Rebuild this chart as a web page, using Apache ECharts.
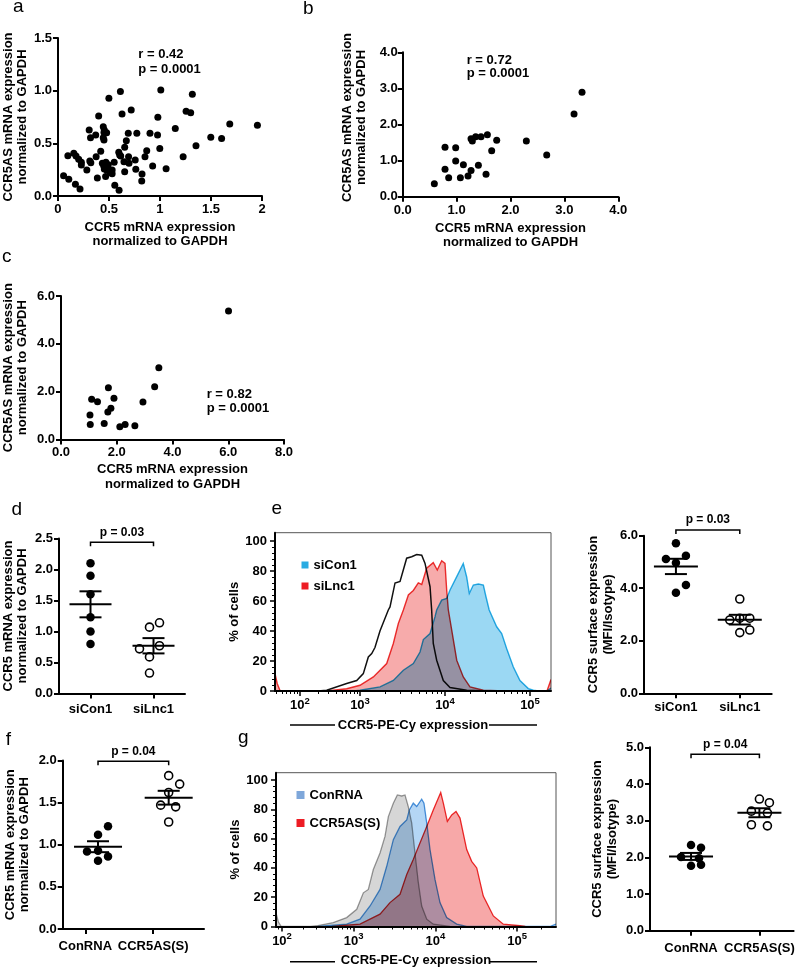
<!DOCTYPE html>
<html><head><meta charset="utf-8">
<script src="https://cdn.jsdelivr.net/npm/echarts@6/dist/echarts.min.js"></script>
<style>html,body{margin:0;padding:0;background:#fff}#c{width:800px;height:969px}</style>
</head><body><div id="c"></div>
<script>
// ---------------- DATA ----------------
// a: [CCR5, CCR5AS] normalized to GAPDH
const aPoints = [[0.055,0.193],[0.106,0.158],[0.097,0.383],[0.155,0.405],[0.177,0.38],[0.203,0.348],[0.229,0.32],[0.229,0.294],[0.171,0.111],[0.216,0.066],[0.283,0.247],[0.306,0.627],[0.319,0.554],[0.312,0.332],[0.322,0.316],[0.37,0.579],[0.374,0.373],[0.386,0.171],[0.399,0.759],[0.419,0.424],[0.444,0.658],[0.454,0.627],[0.444,0.554],[0.451,0.604],[0.477,0.601],[0.451,0.532],[0.435,0.31],[0.448,0.288],[0.47,0.32],[0.454,0.256],[0.477,0.247],[0.493,0.297],[0.467,0.184],[0.512,0.222],[0.499,0.927],[0.531,0.247],[0.551,0.32],[0.531,0.212],[0.612,0.991],[0.628,0.778],[0.557,0.101],[0.599,0.054],[0.596,0.415],[0.605,0.389],[0.615,0.38],[0.692,0.373],[0.654,0.231],[0.647,0.326],[0.689,0.595],[0.67,0.525],[0.718,0.816],[0.654,0.462],[0.696,0.31],[0.773,0.595],[0.757,0.342],[0.763,0.253],[0.824,0.209],[0.821,0.142],[0.853,0.373],[0.87,0.43],[0.902,0.595],[0.928,0.285],[0.976,0.579],[0.979,0.747],[0.998,0.452],[1.008,1.006],[1.06,0.259],[1.15,0.642],[1.227,0.373],[1.256,0.804],[1.301,0.791],[1.317,0.965],[1.353,0.478],[1.498,0.557],[1.604,0.547],[1.684,0.684],[1.955,0.671]];
const aStats = 'r = 0.42\np = 0.0001';
// b
const bPoints = [[0.587,0.36],[0.785,1.367],[0.785,0.757],[0.853,0.526],[0.983,1.357],[0.983,0.988],[1.07,0.526],[1.126,0.886],[1.212,0.572],[1.268,0.729],[1.268,1.607],[1.292,1.542],[1.354,1.662],[1.404,0.868],[1.453,1.662],[1.546,0.619],[1.571,1.717],[1.651,1.274],[1.744,1.561],[2.294,1.542],[2.672,1.154],[3.179,2.29],[3.327,2.89]];
const bStats = 'r = 0.72\np = 0.0001';
// c
const cPoints = [[6.01,5.37],[3.51,3.0],[3.36,2.2],[1.70,2.16],[1.10,1.68],[1.31,1.58],[1.90,1.72],[2.94,1.56],[1.79,1.30],[1.04,1.02],[1.68,1.15],[1.05,0.62],[1.55,0.67],[2.11,0.53],[2.30,0.62],[2.65,0.57]];
const cStats = 'r = 0.82\np = 0.0001';
const xTitleMRNA = 'CCR5 mRNA expression\nnormalized to GAPDH';
const yTitleAS = 'CCR5AS mRNA expression\nnormalized to GAPDH';

// d: CCR5 mRNA
const dCats = ['siCon1','siLnc1'];
const dSiCon1 = [2.10,1.90,1.60,1.23,1.00,0.80];
const dSiLnc1 = [1.07,1.14,0.72,0.77,0.59,0.33];
const dP = 'p = 0.03';
// e: histograms [log10 intensity, % of max]
const eIsotype = [[2.3,0],[2.445,0.5],[2.778,5],[2.945,7],[3.039,11.6],[3.098,22.7],[3.138,25],[3.176,29],[3.235,40],[3.333,54],[3.353,56],[3.412,72],[3.471,73],[3.549,88.5],[3.608,89.5],[3.667,91],[3.726,90.5],[3.765,85],[3.824,69.5],[3.843,54],[3.862,31.7],[3.902,20.5],[3.98,7],[4.059,2.3],[4.255,0.5],[4.5,0]];
const eSiLnc1Hist = [[1.583,11.8],[1.62,5],[1.67,0],[2.445,0],[2.778,1.5],[3.0,3.8],[3.157,9.4],[3.314,18.3],[3.392,31.7],[3.451,45],[3.51,54],[3.569,64],[3.627,67],[3.686,72],[3.726,71],[3.784,81.8],[3.862,85.5],[3.909,80.6],[3.961,86.8],[4.0,85],[4.02,67],[4.039,54],[4.079,40.5],[4.138,20.5],[4.215,9.4],[4.294,2.7],[4.451,0.5],[4.7,0],[5.2,0],[5.247,7.6]];
const eSiCon1Hist = [[2.9,0],[3.0,0.5],[3.235,2.7],[3.392,7],[3.51,13.8],[3.627,18.3],[3.706,26],[3.745,34.3],[3.824,38.3],[3.882,49.4],[3.902,54],[3.961,60.6],[4.02,61.7],[4.059,67.3],[4.138,76.2],[4.215,85],[4.255,76],[4.286,65],[4.333,70.6],[4.392,71.3],[4.451,70.6],[4.482,62.8],[4.52,54],[4.608,42.8],[4.667,38.3],[4.725,28.3],[4.804,16],[4.882,7],[4.98,1.6],[5.039,0.5],[5.1,0],[5.2,0],[5.247,2]];
const histYTicks = [0,20,40,60,80,100];
const histXDecades = [2,3,4,5];
// e right: MFI/Isotype
const eMfiSiCon1 = [5.71,5.11,5.24,4.97,4.12,3.83];
const eMfiSiLnc1 = [3.59,2.86,2.86,2.79,2.31,2.41];
const eP = 'p = 0.03';
// f: CCR5 mRNA
const fCats = ['ConRNA','CCR5AS(S)'];
const fConRNA = [1.22,1.12,0.92,0.93,0.86,0.81];
const fCCR5AS = [1.82,1.72,1.62,1.47,1.45,1.27];
const fP = 'p = 0.04';
// g histograms
const gIsotype = [[1.916,9.5],[1.95,3],[1.99,0],[2.4,0],[2.484,0.5],[2.715,2.7],[2.902,6.1],[3.037,11.7],[3.118,23],[3.179,25.3],[3.24,38.9],[3.322,50.2],[3.383,61.5],[3.424,75],[3.485,84.2],[3.534,89.8],[3.588,89.1],[3.628,89.8],[3.668,81.9],[3.71,70.6],[3.75,50.2],[3.791,29.9],[3.832,14],[3.894,5],[3.974,1.6],[4.179,0]];
const gConRNAHist = [[2.5,0],[2.623,0.5],[2.902,1.6],[3.077,5],[3.2,14],[3.322,25.3],[3.404,41.1],[3.485,59.3],[3.567,68.3],[3.649,72.8],[3.681,79.6],[3.729,84.2],[3.771,81.9],[3.832,86.9],[3.86,84.2],[3.894,70.6],[3.934,52.5],[3.995,32.1],[4.056,16.3],[4.138,6.1],[4.261,1.6],[4.383,0],[5.4,0],[5.476,1.6]];
const gCCR5ASHist = [[2.7,0],[2.809,0.5],[3.077,1.6],[3.322,8.4],[3.444,16.3],[3.567,22],[3.649,35.5],[3.729,45.7],[3.811,57],[3.894,68.3],[3.974,79.6],[4.035,87.6],[4.065,91.4],[4.097,84.2],[4.146,71.7],[4.2,76.2],[4.252,78.5],[4.301,74],[4.383,52.5],[4.444,44.5],[4.506,40],[4.586,20.8],[4.709,7.2],[4.831,1.6],[5.035,0.5],[5.1,0]];
// g right
const gMfiConRNA = [2.34,2.26,2.01,1.98,1.77,1.80];
const gMfiCCR5AS = [3.59,3.49,3.26,3.21,2.89,2.86];
const gP = 'p = 0.04';

// ---------------- STYLE / LAYOUT ----------------
const FF = '"Liberation Sans", Arial, Helvetica, sans-serif';
const dJitCon = [0,0,0,0,0,0], dJitLnc = [-4,6,-14,6,-4,-4];
const eJitCon = [0,-10,10,0,10,0], eJitLnc = [0,0,10,-10,0,10];
const fJitCon = [10,0,-11,0,10,0], fJitAS = [0,11,0,-8,7,0];
const gJitCon = [0,10,-10,8,0,10], gJitAS = [0,10,-8,8,-8,8];

function merge(a,b){const o=Array.isArray(a)?a.slice():Object.assign({},a);for(const k in b){const v=b[k];if(v&&typeof v==='object'&&!Array.isArray(v)&&a[k]&&typeof a[k]==='object'&&!Array.isArray(a[k]))o[k]=merge(a[k],v);else o[k]=v;}return o;}
const AXB = {
  type:'value', splitLine:{show:false},
  axisLine:{show:true,onZero:false,lineStyle:{color:'#000',width:2}},
  axisTick:{show:true,length:5,lineStyle:{color:'#000',width:2}},
  axisLabel:{show:true,color:'#000',fontWeight:'bold',fontSize:13,fontFamily:FF,margin:6},
  nameLocation:'middle', nameRotate:0,
  nameTextStyle:{color:'#000',fontWeight:'bold',fontSize:13,fontFamily:FF,lineHeight:14.5}
};
const ax = o => merge(AXB,o);
const f1 = v => v.toFixed(1);

function makeT(d2){ return lg => lg >= 3 ? lg : d2 + (lg-2)*(3-d2); }
const eT = makeT(2.294), gT = makeT(2.1224);
const eX = [2.0, 5.247], gX = [2.049, 5.476];
function minorTicks(T, lo, hi){const out=[];for(let n=1;n<=5;n++)for(let k=2;k<=9;k++){const d=T(n+Math.log10(k));if(d>lo&&d<hi)out.push(d);}return out;}
const yMinor = []; for (let v=4; v<100; v+=4) if (v%20) yMinor.push(v);
const supRich = {b:{fontSize:13,fontWeight:'bold',fontFamily:FF,color:'#000'},s:{fontSize:9.5,fontWeight:'bold',fontFamily:FF,color:'#000',padding:[0,0,9,0]}};
function histXAxes(gi, T, X){
  const major = histXDecades.map(T);
  return [
    ax({gridIndex:gi,min:X[0],max:X[1],position:'bottom',offset:0,name:'CCR5-PE-Cy expression',nameGap:27,
      axisTick:{customValues:major,length:5,lineStyle:{width:1.5}},
      axisLabel:{customValues:major,margin:5,rich:supRich,formatter:v=>{let k=histXDecades[0];histXDecades.forEach(n=>{if(Math.abs(T(n)-v)<Math.abs(T(k)-v))k=n;});return '{b|10}{s|'+k+'}';}}}),
    ax({gridIndex:gi,min:X[0],max:X[1],position:'bottom',offset:0,axisLine:{show:false},
      axisTick:{customValues:minorTicks(T,X[0],X[1]),length:3,lineStyle:{width:1}},axisLabel:{show:false}})
  ];
}
function histYAxes(gi, max, gap){
  return [
    ax({gridIndex:gi,min:0,max:max,position:'left',offset:0,name:'% of cells',nameRotate:90,nameGap:gap,
      axisTick:{customValues:histYTicks,length:5,lineStyle:{width:1.5}},axisLabel:{customValues:histYTicks,margin:8}}),
    ax({gridIndex:gi,min:0,max:max,position:'left',offset:0,axisLine:{show:false},
      axisTick:{customValues:yMinor,length:3,lineStyle:{width:1}},axisLabel:{show:false}})
  ];
}
function catX(gi, cats, pos, margin, min, max){
  return ax({gridIndex:gi,min:min,max:max,axisTick:{customValues:pos},
    axisLabel:{customValues:pos,margin:margin,formatter:v=>cats[v < (pos[0]+pos[1])/2 ? 0 : 1]}});
}

function scatter(xi, pts){
  return {type:'scatter',xAxisIndex:xi,yAxisIndex:xi,data:pts,symbolSize:7,itemStyle:{color:'#000',opacity:1},silent:true};
}
function dots(xi, idx, vals, jit, open){
  return {type:'scatter',xAxisIndex:xi,yAxisIndex:xi,silent:true,symbolSize:open?8:8.5,
    itemStyle:open?{color:'#fff',borderColor:'#000',borderWidth:1.6,opacity:1}:{color:'#000',opacity:1},
    data:vals.map((v,i)=>({value:[idx,v],symbolOffset:[jit[i],0]}))};
}
function stats(a){const n=a.length,m=a.reduce((s,v)=>s+v,0)/n;const sd=Math.sqrt(a.reduce((s,v)=>s+(v-m)*(v-m),0)/(n-1));return [m, sd/Math.sqrt(n)];}
function meanSem(xi, groups, hw, cw){
  const st = groups.map(stats);
  return {type:'custom',xAxisIndex:xi,yAxisIndex:xi,silent:true,z:3,
    data:st.map((s,i)=>[i,s[0]]),
    renderItem(p, api){
      const i=p.dataIndex, s=st[i];
      const c=api.coord([i,s[0]]), t=api.coord([i,s[0]+s[1]]), b=api.coord([i,s[0]-s[1]]);
      const ls={stroke:'#000',lineWidth:2};
      return {type:'group',children:[
        {type:'line',shape:{x1:c[0]-hw,y1:c[1],x2:c[0]+hw,y2:c[1]},style:ls},
        {type:'line',shape:{x1:t[0],y1:t[1],x2:b[0],y2:b[1]},style:ls},
        {type:'line',shape:{x1:t[0]-cw,y1:t[1],x2:t[0]+cw,y2:t[1]},style:ls},
        {type:'line',shape:{x1:b[0]-cw,y1:b[1],x2:b[0]+cw,y2:b[1]},style:ls}]};
    }};
}
function bracket(xi, level, text){
  return {type:'custom',xAxisIndex:xi,yAxisIndex:xi,silent:true,data:[[0.5,level]],
    renderItem(p, api){
      const l=api.coord([0,level]), r=api.coord([1,level]);
      return {type:'group',children:[
        {type:'polyline',shape:{points:[[l[0],l[1]+4],[l[0],l[1]],[r[0],r[1]],[r[0],r[1]+4]]},style:{stroke:'#000',lineWidth:1.5,fill:null}},
        {type:'text',x:(l[0]+r[0])/2,y:l[1]-4,style:{text:text,align:'center',verticalAlign:'bottom',font:'bold 12px '+FF,fill:'#000'}}]};
    }};
}
function hist(name, pts, T, xi, yi, fill, stroke, lw, legendColor){
  const mapped = pts.map(p=>[T(p[0]),p[1]]);
  return {type:'custom',name:name,xAxisIndex:xi,yAxisIndex:yi,silent:true,clip:true,blendMode:'multiply',
    itemStyle:{color:legendColor||stroke},data:mapped,
    renderItem(p, api){
      if (p.dataIndex!==0) return null;
      const line = mapped.map(q=>api.coord(q));
      const poly = [api.coord([mapped[0][0],0])].concat(line,[api.coord([mapped[mapped.length-1][0],0])]);
      const ch = [];
      if (fill) ch.push({type:'polygon',shape:{points:poly},style:{fill:fill}});
      ch.push({type:'polyline',shape:{points:line},style:{stroke:stroke,lineWidth:lw,fill:null}});
      return {type:'group',children:ch};
    }};
}

const grids = [
  {left:55,top:38,width:207,height:158},        // a
  {left:402.7,top:52.3,width:215.6,height:144.4},// b
  {left:60,top:296,width:224,height:143.4},      // c
  {left:58.3,top:538.5,width:126.7,height:155},  // d
  {left:275,top:532.7,width:276,height:158.3,show:true,borderColor:'#555',borderWidth:1}, // e hist
  {left:644,top:535.7,width:127.7,height:157.6}, // e right
  {left:62.7,top:760.5,width:141.3,height:168.5},// f
  {left:276,top:772.7,width:280,height:154.6,show:true,borderColor:'#555',borderWidth:1}, // g hist
  {left:650,top:747.3,width:143.6,height:183.5}  // g right
];

const eHX = histXAxes(4, eT, eX), gHX = histXAxes(7, gT, gX);
const eHY = histYAxes(4, 105.5, 25.5), gHY = histYAxes(7, 105, 24.5);

const xAxis = [
  ax({gridIndex:0,min:0,max:2,interval:0.5,name:xTitleMRNA,nameGap:24,axisLabel:{margin:7}}),
  ax({gridIndex:1,min:0,max:4,interval:1,name:xTitleMRNA,nameGap:24,axisLabel:{margin:7,formatter:f1}}),
  ax({gridIndex:2,min:0,max:8,interval:2,name:xTitleMRNA,nameGap:23,axisLabel:{margin:7,formatter:f1}}),
  catX(3, dCats, [0,1], 9, -0.5, 1.5),
  eHX[0], eHX[1],
  catX(5, dCats, [0,1], 8, -0.5, 1.5),
  catX(6, fCats, [-0.18,0.78], 11, -0.5, 1.5),
  gHX[0], gHX[1],
  catX(8, fCats, [0,1], 11, -0.6, 1.5)
];
const yAxis = [
  ax({gridIndex:0,min:0,max:1.5,interval:0.5,name:yTitleAS,nameRotate:90,nameGap:26.5,axisLabel:{formatter:f1}}),
  ax({gridIndex:1,min:0,max:4,interval:1,name:yTitleAS,nameRotate:90,nameGap:34,axisLabel:{formatter:f1,margin:5},nameTextStyle:{padding:[0,0,0,14]}}),
  ax({gridIndex:2,min:0,max:6,interval:2,name:yTitleAS,nameRotate:90,nameGap:31,axisLabel:{formatter:f1}}),
  ax({gridIndex:3,min:0,max:2.5,interval:0.5,name:'CCR5 mRNA expression\nnormalized to GAPDH',nameRotate:90,nameGap:29,axisLabel:{formatter:f1}}),
  eHY[0], eHY[1],
  ax({gridIndex:5,min:0,max:6,interval:2,name:'CCR5 surface expression\n(MFI/Isotype)',nameRotate:90,nameGap:28.5,axisLabel:{formatter:f1}}),
  ax({gridIndex:6,min:0,max:2,interval:0.5,name:'CCR5 mRNA expression\nnormalized to GAPDH',nameRotate:90,nameGap:31,axisLabel:{formatter:f1}}),
  gHY[0], gHY[1],
  ax({gridIndex:8,min:0,max:5,interval:1,name:'CCR5 surface expression\n(MFI/Isotype)',nameRotate:90,nameGap:30.5,axisLabel:{formatter:f1}})
];

const series = [
  scatter(0, aPoints), scatter(1, bPoints), scatter(2, cPoints),
  // d
  dots(3,0,dSiCon1,dJitCon,false), dots(3,1,dSiLnc1,dJitLnc,true),
  meanSem(3,[dSiCon1,dSiLnc1],21,11), bracket(3,2.44,dP),
  // e hist
  hist('siCon1', eSiCon1Hist, eT, 4, 4, '#9bd8f3', '#2bb3e6', 1.4, '#29abe2'),
  hist('siLnc1', eSiLnc1Hist, eT, 4, 4, '#f7abab', '#ee3333', 1.4, '#ed1c24'),
  hist('isotype_e', eIsotype, eT, 4, 4, null, '#111', 1.5),
  // e right
  dots(6,0,eMfiSiCon1,eJitCon,false), dots(6,1,eMfiSiLnc1,eJitLnc,true),
  meanSem(6,[eMfiSiCon1,eMfiSiLnc1],22,11), bracket(6,6.22,eP),
  // f
  dots(7,0,fConRNA,fJitCon,false), dots(7,1,fCCR5AS,fJitAS,true),
  meanSem(7,[fConRNA,fCCR5AS],24,11), bracket(7,1.99,fP),
  // g hist
  hist('isotype_g', gIsotype, gT, 8, 8, '#d6d6d6', '#9c9c9c', 1.3),
  hist('ConRNA', gConRNAHist, gT, 8, 8, '#b4d6f5', '#4f98dc', 1.3, '#7ea7da'),
  hist('CCR5AS(S)', gCCR5ASHist, gT, 8, 8, '#f7a8a8', '#ee2c2c', 1.3, '#ed1c24'),
  // g right
  dots(10,0,gMfiConRNA,gJitCon,false), dots(10,1,gMfiCCR5AS,gJitAS,true),
  meanSem(10,[gMfiConRNA,gMfiCCR5AS],22,11), bracket(10,4.81,gP)
];

const legTxt = {color:'#000',fontWeight:'bold',fontSize:13,fontFamily:FF};
const legend = [
  {left:296.5,top:553.5,orient:'vertical',itemGap:8,itemWidth:7,itemHeight:7,icon:'rect',data:['siCon1','siLnc1'],textStyle:legTxt,selectedMode:false},
  {left:291.5,top:783.5,orient:'vertical',itemGap:15,itemWidth:8,itemHeight:8,icon:'rect',data:['ConRNA','CCR5AS(S)'],textStyle:legTxt,selectedMode:false}
];

const letters = [['a',18.3,7],['b',308.3,8.3],['c',6.7,256.5],['d',16.7,510],['e',276.7,508.3],['f',8.3,740],['g',243.3,738]];
const graphic = letters.map(l=>({type:'text',x:l[1],y:l[2],silent:true,style:{text:l[0],font:'19px '+FF,fill:'#000',align:'center',verticalAlign:'middle'}}));
[[aStats,138.3,46.5,15],[bStats,466.7,53.3,13.5],[cStats,206.7,387,14]].forEach(s=>graphic.push({type:'text',x:s[1],y:s[2],silent:true,style:{text:s[0],font:'bold 13px '+FF,lineHeight:s[3],fill:'#000',align:'left',verticalAlign:'top'}}));
[[725],[961.7]].forEach(r=>{
  graphic.push({type:'line',silent:true,shape:{x1:290,y1:r[0],x2:335,y2:r[0]},style:{stroke:'#000',lineWidth:1.5}});
  graphic.push({type:'line',silent:true,shape:{x1:489,y1:r[0],x2:537,y2:r[0]},style:{stroke:'#000',lineWidth:1.5}});
});

const chart = echarts.init(document.getElementById('c'), null, {renderer:'canvas',width:800,height:969});
chart.setOption({backgroundColor:'#fff',animation:false,grid:grids,xAxis:xAxis,yAxis:yAxis,series:series,legend:legend,graphic:graphic});
</script></body></html>
